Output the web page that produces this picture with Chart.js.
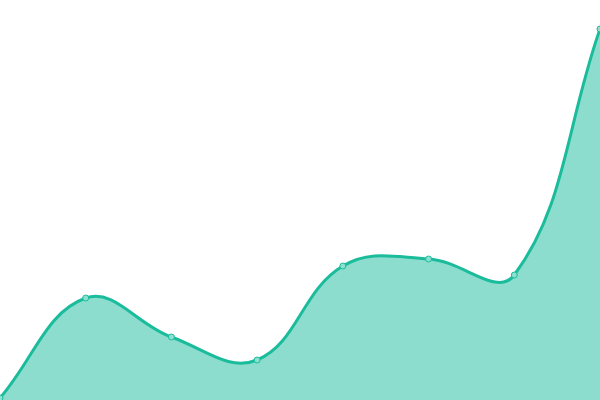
<!DOCTYPE html>
<html><head><meta charset="utf-8">
<script src="https://cdn.jsdelivr.net/npm/chart.js@4"></script>
<style>html,body{margin:0;padding:0;background:#fff}#wrap{width:600px;height:400px}</style>
</head><body><div id="wrap"><canvas id="c"></canvas></div>
<script>
const labels = ["1","2","3","4","5","6","7","8"];
const values = [2, 102, 63, 40, 134, 141, 125, 371];
const yMin = 0;
const yMax = 400;
new Chart(document.getElementById('c'), {
  type: 'line',
  data: { labels: labels, datasets: [{
    data: values,
    fill: true,
    backgroundColor: 'rgba(26,188,156,0.5)',
    borderColor: '#1abc9c',
    borderWidth: 3,
    tension: 0.4,
    pointRadius: 3,
    pointBorderWidth: 1,
    pointBackgroundColor: '#8ce0cf',
    pointBorderColor: '#1abc9c'
  }]},
  options: {
    responsive: true, maintainAspectRatio: false, animation: false,
    layout: { padding: 0, autoPadding: false },
    plugins: { legend: { display: false }, tooltip: { enabled: false } },
    scales: {
      x: { display: false, offset: false },
      y: { display: false, min: yMin, max: yMax }
    }
  }
});
</script></body></html>
